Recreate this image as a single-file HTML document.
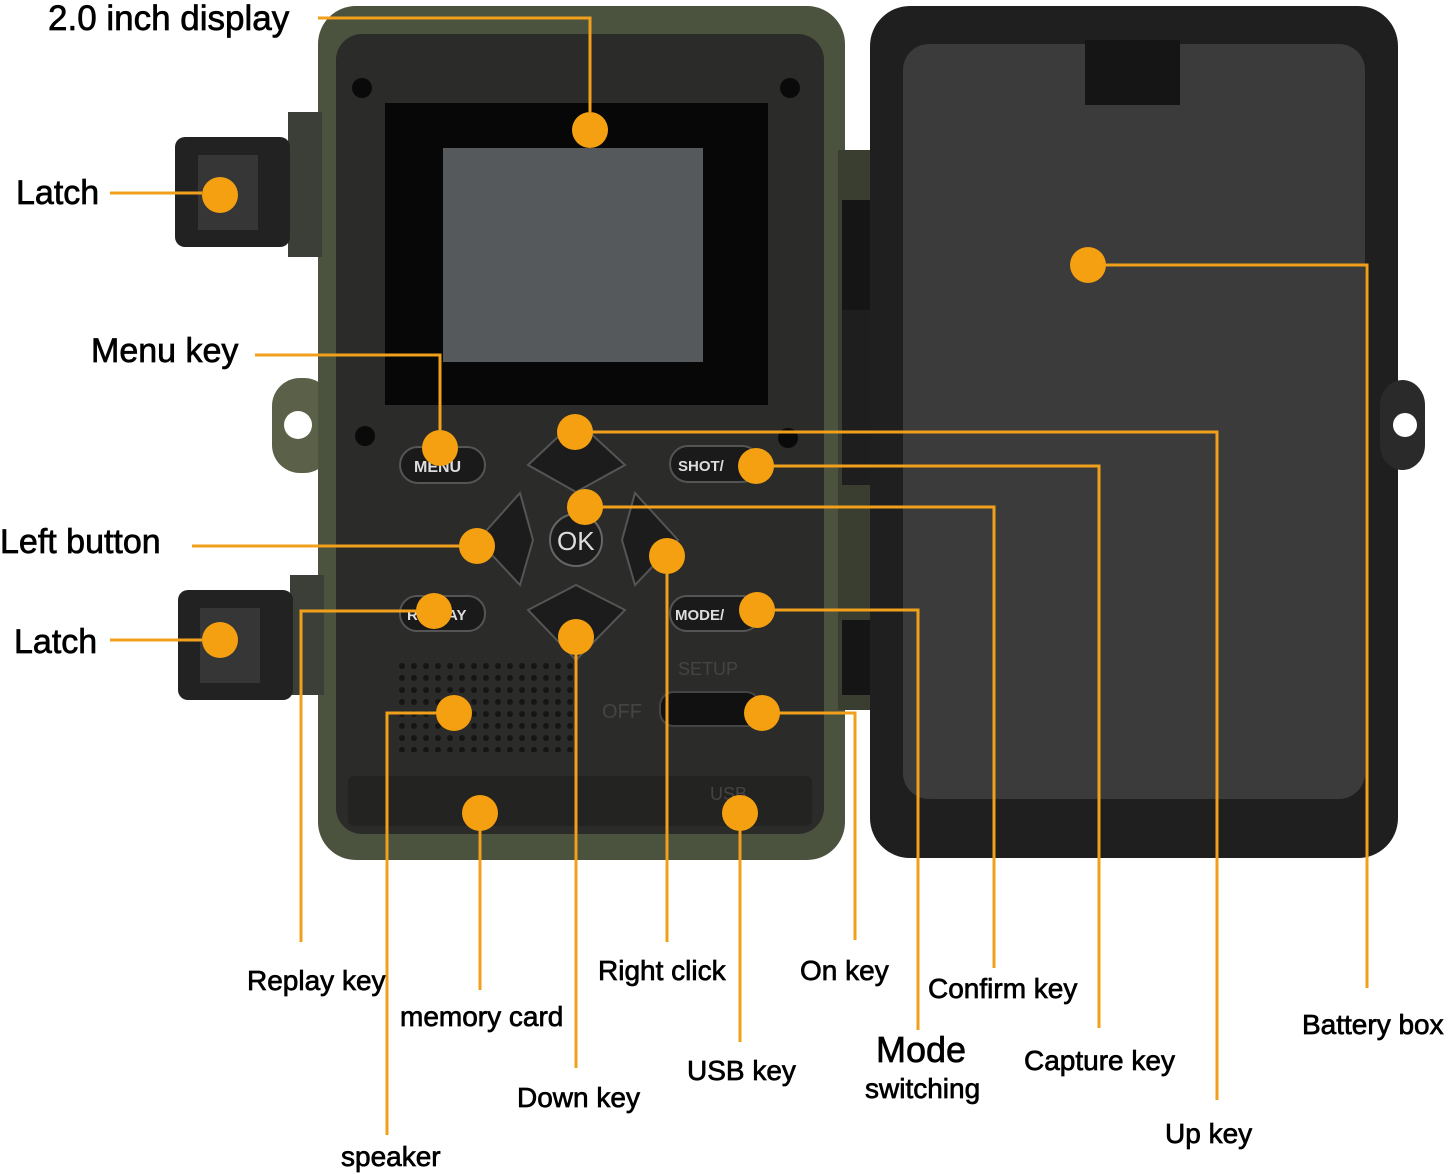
<!DOCTYPE html>
<html><head><meta charset="utf-8"><style>
html,body{margin:0;padding:0;background:#fff;}
svg{display:block;}
text{font-family:"Liberation Sans",sans-serif;fill:#000;}
.l{stroke:#000;stroke-width:0.7;}
</style></head><body>
<svg width="1451" height="1174" viewBox="0 0 1451 1174" xmlns="http://www.w3.org/2000/svg">
<defs>
<pattern id="grille" width="12" height="12" patternUnits="userSpaceOnUse">
<circle cx="6" cy="6" r="3" fill="#151515"/>
</pattern>
</defs>
<rect x="272" y="378" width="60" height="95" rx="28" fill="#5b6148"/>
<circle cx="298" cy="425" r="14" fill="#fff"/>
<rect x="318" y="6" width="527" height="854" rx="38" fill="#4b523d"/>
<rect x="336" y="34" width="488" height="800" rx="26" fill="#2b2c2a"/>
<rect x="348" y="776" width="464" height="50" rx="6" fill="#232422"/>
<circle cx="362" cy="88" r="10" fill="#0a0a0a"/><circle cx="790" cy="88" r="10" fill="#0a0a0a"/>
<circle cx="365" cy="436" r="10" fill="#0a0a0a"/><circle cx="788" cy="438" r="10" fill="#0a0a0a"/>
<rect x="385" y="103" width="383" height="302" fill="#070707"/>
<rect x="443" y="148" width="260" height="214" fill="#56595b"/>
<rect x="400" y="447" width="85" height="36" rx="18" fill="#1a1a1a" stroke="#555" stroke-width="2"/>
<text x="414" y="472" font-size="16" font-weight="bold" style="fill:#ddd">MENU</text>
<rect x="670" y="446" width="90" height="36" rx="18" fill="#1a1a1a" stroke="#555" stroke-width="2"/>
<text x="678" y="471" font-size="15" font-weight="bold" style="fill:#ddd">SHOT/</text>
<rect x="400" y="596" width="85" height="35" rx="17" fill="#1a1a1a" stroke="#555" stroke-width="2"/>
<text x="407" y="620" font-size="15" font-weight="bold" style="fill:#ddd">REPLAY</text>
<rect x="670" y="596" width="90" height="35" rx="17" fill="#1a1a1a" stroke="#555" stroke-width="2"/>
<text x="675" y="620" font-size="15" font-weight="bold" style="fill:#ddd">MODE/</text>
<polygon points="576,420 625,465 576,492 528,465" fill="#1c1c1c" stroke="#555" stroke-width="2"/>
<polygon points="576,660 625,610 576,585 528,610" fill="#1c1c1c" stroke="#555" stroke-width="2"/>
<polygon points="478,540 520,493 533,540 520,585" fill="#1c1c1c" stroke="#555" stroke-width="2"/>
<polygon points="678,540 635,493 622,540 635,585" fill="#1c1c1c" stroke="#555" stroke-width="2"/>
<circle cx="576" cy="540" r="26" fill="#1c1c1c" stroke="#666" stroke-width="2"/>
<text x="557" y="550" font-size="26" style="fill:#ddd">OK</text>
<rect x="398" y="662" width="175" height="90" fill="url(#grille)"/>
<text x="678" y="675" font-size="18" style="fill:#444">SETUP</text>
<text x="602" y="718" font-size="20" style="fill:#444">OFF</text>
<rect x="660" y="692" width="100" height="34" rx="14" fill="#111" stroke="#444" stroke-width="2"/>
<text x="710" y="800" font-size="18" style="fill:#444">USB</text>
<rect x="288" y="112" width="34" height="145" fill="#3c3f38"/>
<rect x="175" y="137" width="115" height="110" rx="10" fill="#222"/>
<rect x="198" y="155" width="60" height="75" fill="#363636"/>
<rect x="290" y="575" width="34" height="120" fill="#3c3f38"/>
<rect x="178" y="590" width="115" height="110" rx="10" fill="#222"/>
<rect x="200" y="608" width="60" height="75" fill="#363636"/>
<rect x="838" y="150" width="45" height="560" fill="#3a3e30"/>
<rect x="842" y="200" width="38" height="110" fill="#151515"/>
<rect x="842" y="310" width="38" height="175" fill="#1e1e1e"/>
<rect x="842" y="620" width="38" height="75" fill="#151515"/>
<rect x="870" y="6" width="528" height="852" rx="40" fill="#1f1f1f"/>
<rect x="1380" y="380" width="45" height="90" rx="25" fill="#2a2a2a"/>
<circle cx="1405" cy="425" r="12" fill="#fff"/>
<rect x="903" y="44" width="462" height="755" rx="26" fill="#3b3b3b"/>
<rect x="1085" y="40" width="95" height="65" fill="#151515"/>
<g stroke="#f2a01c" stroke-width="3" fill="none">
<polyline points="318,18 590,18 590,112"/>
<polyline points="110,193 202,193"/>
<polyline points="255,355 440,355 440,430"/>
<polyline points="575,432 1217,432 1217,1100"/>
<polyline points="756,466 1099,466 1099,1028"/>
<polyline points="585,507 994,507 994,968"/>
<polyline points="192,546 477,546"/>
<polyline points="667,556 667,942"/>
<polyline points="110,640 202,640"/>
<polyline points="434,611 301,611 301,942"/>
<polyline points="757,610 918,610 918,1030"/>
<polyline points="576,637 576,1068"/>
<polyline points="454,713 387,713 387,1135"/>
<polyline points="762,713 855,713 855,940"/>
<polyline points="480,813 480,990"/>
<polyline points="740,813 740,1042"/>
<polyline points="1088,265 1367,265 1367,988"/>
</g>
<g fill="#f5a010">
<circle cx="590" cy="130" r="18"/><circle cx="220" cy="195" r="18"/>
<circle cx="440" cy="448" r="18"/><circle cx="575" cy="432" r="18"/>
<circle cx="756" cy="466" r="18"/><circle cx="585" cy="507" r="18"/>
<circle cx="477" cy="546" r="18"/><circle cx="667" cy="556" r="18"/>
<circle cx="220" cy="640" r="18"/><circle cx="434" cy="611" r="18"/>
<circle cx="757" cy="610" r="18"/><circle cx="576" cy="637" r="18"/>
<circle cx="454" cy="713" r="18"/><circle cx="762" cy="713" r="18"/>
<circle cx="480" cy="813" r="18"/><circle cx="740" cy="813" r="18"/>
<circle cx="1088" cy="265" r="18"/>
</g>
<g class="l">
<text x="48" y="30" font-size="35">2.0 inch display</text>
<text x="16" y="204" font-size="34">Latch</text>
<text x="91" y="362" font-size="34">Menu key</text>
<text x="0" y="553" font-size="34">Left button</text>
<text x="14" y="653" font-size="34">Latch</text>
<text x="247" y="990" font-size="28">Replay key</text>
<text x="400" y="1026" font-size="28">memory card</text>
<text x="598" y="980" font-size="28">Right click</text>
<text x="800" y="980" font-size="28">On key</text>
<text x="928" y="998" font-size="28">Confirm key</text>
<text x="1302" y="1034" font-size="28">Battery box</text>
<text x="876" y="1062" font-size="36">Mode</text>
<text x="865" y="1098" font-size="28">switching</text>
<text x="1024" y="1070" font-size="28">Capture key</text>
<text x="687" y="1080" font-size="28">USB key</text>
<text x="517" y="1107" font-size="28">Down key</text>
<text x="1165" y="1143" font-size="28">Up key</text>
<text x="341" y="1166" font-size="28">speaker</text>
</g>
</svg>
</body></html>
